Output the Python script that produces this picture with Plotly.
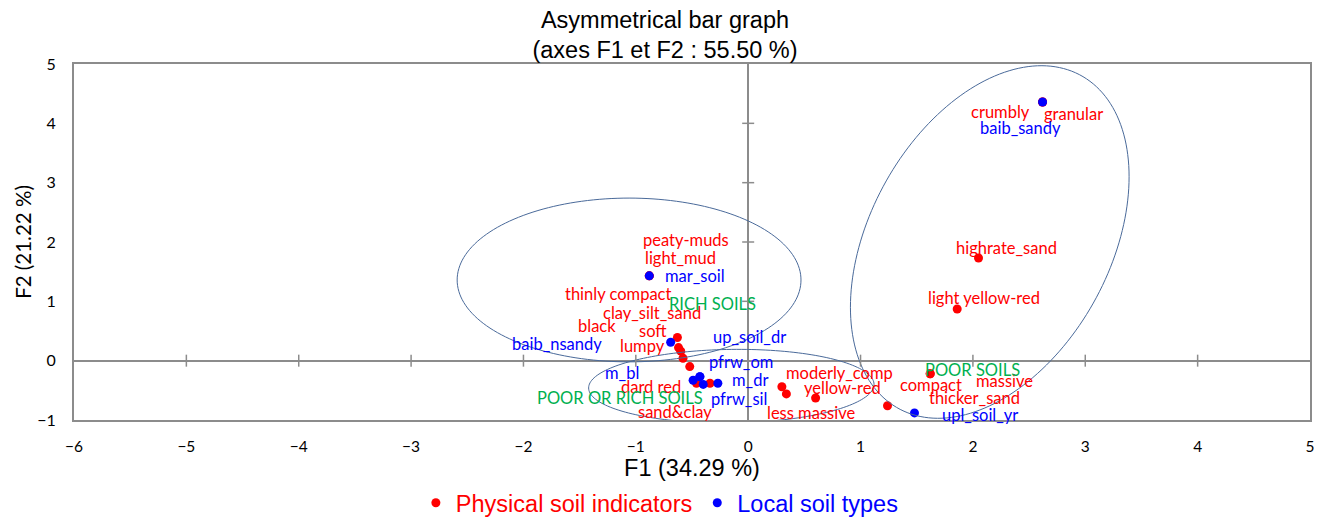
import numpy as np
import plotly.graph_objects as go

# ---------------- data ----------------
phys_labels = ["crumbly", "granular", "highrate_sand", "light yellow-red", "compact", "massive",
               "thicker_sand", "moderly_comp", "less massive", "yellow-red", "peaty-muds", "light_mud",
               "soft", "lumpy", "black", "clay_silt_sand", "thinly compact", "dard red", "sand&clay"]
phys_f1 = [2.62, 2.62, 2.05, 1.86, 1.62, 1.62, 1.24, 0.30, 0.34, 0.60, -0.88, -0.88,
           -0.63, -0.62, -0.60, -0.58, -0.52, -0.46, -0.34]
phys_f2 = [4.36, 4.36, 1.73, 0.87, -0.22, -0.22, -0.76, -0.44, -0.56, -0.63, 1.43, 1.43,
           0.39, 0.22, 0.16, 0.04, -0.10, -0.38, -0.38]

soil_labels = ["baib_sandy", "mar_soil", "baib_nsandy", "up_soil_dr", "pfrw_om", "m_bl",
               "pfrw_sil", "m_dr", "upl_soil_yr"]
soil_f1 = [2.62, -0.88, -0.69, -0.43, -0.43, -0.49, -0.40, -0.27, 1.48]
soil_f2 = [4.36, 1.43, 0.31, -0.27, -0.27, -0.33, -0.40, -0.38, -0.88]

group_labels = ["RICH SOILS", "POOR OR RICH SOILS", "POOR SOILS"]
group_label_f1 = [-0.32, -1.14, 2.00]
group_label_f2 = [0.96, -0.63, -0.16]

# confidence ellipses: center, conjugate semi-diameters
ell_center = [(-1.06, 1.36), (-0.15, -0.43), (2.15, 2.00)]
ell_u = [(1.53, 0.0), (1.27, 0.03), (1.24, 1.10)]
ell_v = [(0.0, 1.38), (0.0, 0.62), (0.0, 2.76)]

x_ticks = list(range(-6, 6))
y_ticks = list(range(-1, 6))

# label offsets in pixels (dx right, dy down)
phys_offsets = [(-42, 10), (31, 12), (28, -10), (27, -11), (1, 11), (74, 7),
                (87, -8), (58, -14), (25, 19), (27, -10), (37, -36), (31, -18),
                (-24, -7), (-36, -2), (-84, -25), (-31, -45), (-72, -73), (-45, 4), (-35, 29)]
soil_offsets = [(-22, 26), (46, 0), (-114, 2), (50, -40), (41, -15), (-71, -7),
                (36, 15), (32, -3), (66, 2)]

RED = "#FF0000"
BLUE = "#0000FF"
GREEN = "#00B050"
GREY = "#8C8C8C"
ELL = "#4A6A9A"
LABEL_FONT = "Lato, Calibri, Carlito, sans-serif"
ARIAL = "Liberation Sans, Arial, sans-serif"

fig = go.Figure()
fig.add_trace(go.Scatter(
    x=phys_f1, y=phys_f2, mode="markers", text=phys_labels,
    name=f"<span style='color:{RED}'>Physical soil indicators</span>",
    marker=dict(color=RED, size=9), cliponaxis=False))
fig.add_trace(go.Scatter(
    x=soil_f1, y=soil_f2, mode="markers", text=soil_labels,
    name=f"<span style='color:{BLUE}'>Local soil types</span>",
    marker=dict(color=BLUE, size=9), cliponaxis=False))

annotations = []
for lab, x, y, (dx, dy) in zip(phys_labels, phys_f1, phys_f2, phys_offsets):
    annotations.append(dict(x=x, y=y, xref="x", yref="y", text=lab, showarrow=False,
                            xshift=dx, yshift=-dy, xanchor="center", yanchor="middle",
                            font=dict(family=LABEL_FONT, size=16.5, color=RED)))
for lab, x, y, (dx, dy) in zip(soil_labels, soil_f1, soil_f2, soil_offsets):
    annotations.append(dict(x=x, y=y, xref="x", yref="y", text=lab, showarrow=False,
                            xshift=dx, yshift=-dy, xanchor="center", yanchor="middle",
                            font=dict(family=LABEL_FONT, size=16.5, color=BLUE)))
for lab, x, y in zip(group_labels, group_label_f1, group_label_f2):
    annotations.append(dict(x=x, y=y, xref="x", yref="y", text=lab, showarrow=False,
                            xanchor="center", yanchor="middle",
                            font=dict(family=LABEL_FONT, size=16.5, color=GREEN)))

shapes = []
t = np.linspace(0, 2 * np.pi, 181)
for (cx, cy), (ux, uy), (vx, vy) in zip(ell_center, ell_u, ell_v):
    xs = cx + ux * np.cos(t) + vx * np.sin(t)
    ys = cy + uy * np.cos(t) + vy * np.sin(t)
    path = "M " + " L ".join(f"{a:.4f},{b:.4f}" for a, b in zip(xs, ys)) + " Z"
    shapes.append(dict(type="path", path=path, xref="x", yref="y",
                       line=dict(color=ELL, width=1), layer="above"))

# cross ticks on the zero lines
for k in x_ticks[1:-1]:
    if k == 0:
        continue
    shapes.append(dict(type="line", xref="x", yref="y", x0=k, x1=k, ysizemode="pixel",
                       yanchor=0, y0=-6, y1=6, line=dict(color=GREY, width=1.5)))
for k in y_ticks[1:-1]:
    if k == 0:
        continue
    shapes.append(dict(type="line", xref="x", yref="y", y0=k, y1=k, xsizemode="pixel",
                       xanchor=0, x0=-6, x1=6, line=dict(color=GREY, width=1.5)))

# page body adds an 8px offset, so the figure is 1314x511 with margins adjusted
fig.update_layout(
    width=1314, height=511,
    margin=dict(l=66, r=12, t=56, b=99, autoexpand=False),
    paper_bgcolor="white", plot_bgcolor="white",
    title=dict(text="Asymmetrical bar graph<br>(axes F1 et F2 : 55.50 %)",
               x=0.5, xref="container", xanchor="center",
               y=0.961, yref="container", yanchor="top",
               font=dict(family=ARIAL, size=23.5, color="#000000")),
    xaxis=dict(range=[-6, 5], tickvals=x_ticks, showgrid=False, automargin=False,
               zeroline=True, zerolinecolor=GREY, zerolinewidth=2,
               showline=True, mirror=True, linecolor=GREY, linewidth=2,
               ticks="outside", ticklen=11, tickcolor="rgba(0,0,0,0)",
               tickfont=dict(family=LABEL_FONT, size=15.5, color="#000000"),
               title=dict(text="F1 (34.29 %)", standoff=6,
                          font=dict(family=ARIAL, size=23.5, color="#000000"))),
    yaxis=dict(range=[-1, 5], tickvals=y_ticks, showgrid=False, automargin=False,
               zeroline=True, zerolinecolor=GREY, zerolinewidth=2,
               showline=True, mirror=True, linecolor=GREY, linewidth=2,
               ticks="outside", ticklen=13, tickcolor="rgba(0,0,0,0)",
               tickfont=dict(family=LABEL_FONT, size=16, color="#000000"),
               title=dict(text="F2 (21.22 %)", standoff=0,
                          font=dict(family=LABEL_FONT, size=20.5, color="#000000"))),
    showlegend=True,
    legend=dict(orientation="h", x=0.474, xanchor="center", y=-0.233, yanchor="middle",
                font=dict(family=ARIAL, size=23.5), itemwidth=30, bgcolor="rgba(0,0,0,0)"),
    annotations=annotations,
    shapes=shapes,
)

fig.write_html("out.html")
